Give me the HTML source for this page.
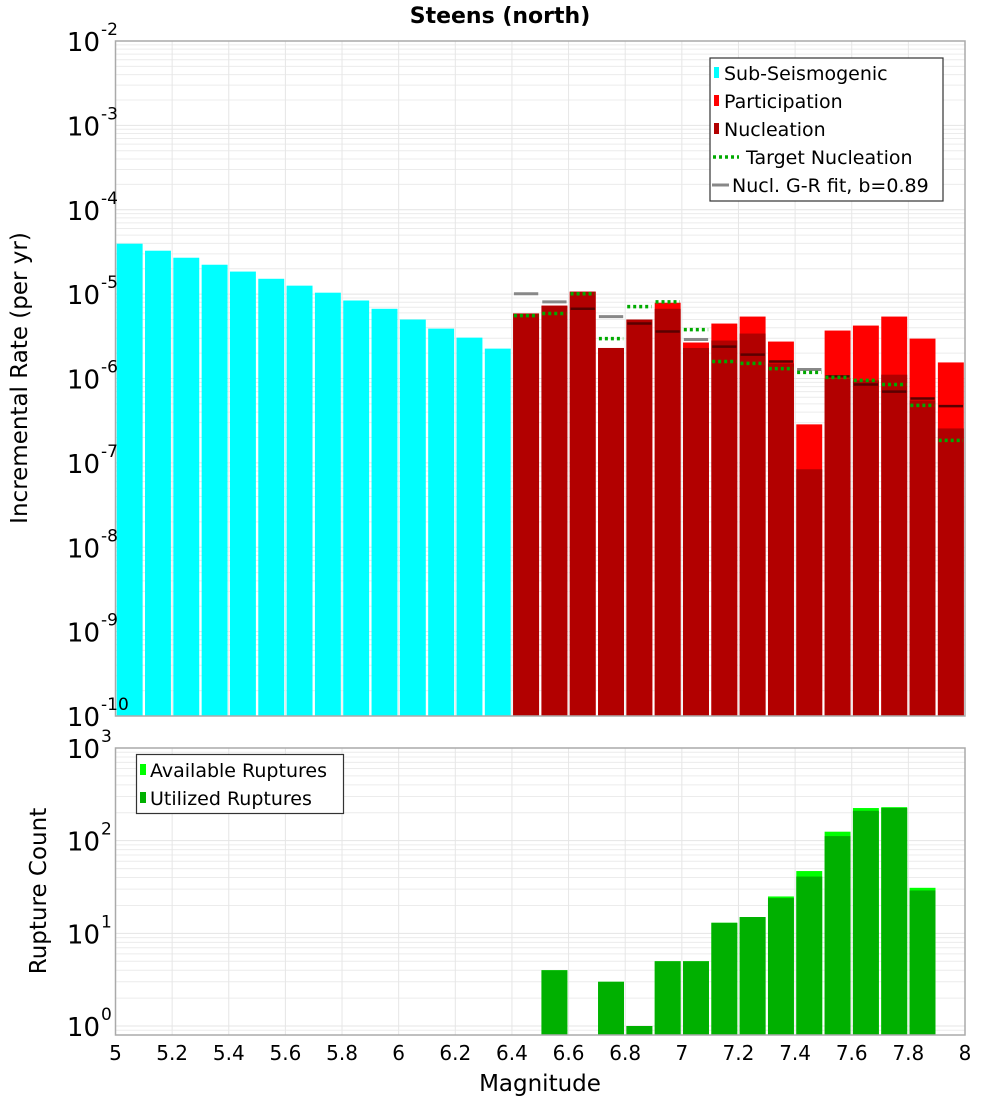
<!DOCTYPE html>
<html><head><meta charset="utf-8"><style>
body{margin:0;background:#fff;}
svg{display:block;font-family:"DejaVu Sans","Liberation Sans",sans-serif;}
</style></head><body>
<svg id="chart" width="1000" height="1100" viewBox="0 0 1000 1100" xmlns="http://www.w3.org/2000/svg">
<text x="500" y="23" text-anchor="middle" font-size="22" font-weight="bold">Steens (north)</text>
<g id="topPanel"></g><g id="botPanel"></g>
</svg>
<script>
// ---- data ----
const subMags = [5.05,5.15,5.25,5.35,5.45,5.55,5.65,5.75,5.85,5.95,6.05,6.15,6.25,6.35];
const subRates = [3.96e-5,3.27e-5,2.7e-5,2.23e-5,1.85e-5,1.52e-5,1.26e-5,1.04e-5,8.4e-6,6.7e-6,5.0e-6,3.9e-6,3.05e-6,2.26e-6];
const supMags = [6.45,6.55,6.65,6.75,6.85,6.95,7.05,7.15,7.25,7.35,7.45,7.55,7.65,7.75,7.85,7.95];
const partRates = [5.9e-6,7.3e-6,1.07e-5,2.3e-6,5.0e-6,7.9e-6,2.67e-6,4.48e-6,5.42e-6,2.74e-6,2.86e-7,3.7e-6,4.24e-6,5.42e-6,2.97e-6,1.55e-6];
const nuclRates = [5.9e-6,7.3e-6,1.07e-5,2.3e-6,5.0e-6,6.7e-6,2.3e-6,2.82e-6,3.41e-6,1.51e-6,8.4e-8,1.0e-6,9.5e-7,1.11e-6,5.5e-7,2.56e-7];
const darkMags = [6.65,6.85,6.95,7.15,7.25,7.35,7.55,7.65,7.75,7.85,7.95];
const darkRates = [6.7e-6,4.48e-6,3.6e-6,2.39e-6,1.92e-6,1.59e-6,1.06e-6,8.5e-7,7.0e-7,5.8e-7,4.7e-7];
const targetRates = [5.57e-6,5.9e-6,1.01e-5,2.97e-6,7.1e-6,8.1e-6,3.8e-6,1.59e-6,1.51e-6,1.31e-6,1.18e-6,1.03e-6,9.5e-7,8.5e-7,4.8e-7,1.85e-7];
const grMags = [6.45,6.55,6.75,7.05,7.45];
const grRates = [1.01e-5,8.1e-6,5.42e-6,2.9e-6,1.28e-6];
const cntMags = [6.55,6.75,6.85,6.95,7.05,7.15,7.25,7.35,7.45,7.55,7.65,7.75,7.85];
const availCounts = [4,3,1,5,5,13,15,25,47,125,225,230,31];
const usedCounts = [4,3,1,5,5,13,15,24,41,112,210,225,29];
const xTicks = [5,5.2,5.4,5.6,5.8,6,6.2,6.4,6.6,6.8,7,7.2,7.4,7.6,7.8,8];
const topExps = [-2,-3,-4,-5,-6,-7,-8,-9,-10];
const botExps = [3,2,1,0];

// ---- axes ----
const X0=115.5,X1=965;
const xs=m=>X0+(m-5)/3*(X1-X0);
const T0=41,T1=716, tMax=-2,tMin=-10;
const yt=v=>T0+(tMax-Math.log10(v))/(tMax-tMin)*(T1-T0);
const B0=748,B1=1035, bMax=3,bMin=-0.097;
const yb=v=>B0+(bMax-Math.log10(v))/(bMax-bMin)*(B1-B0);
const NS='http://www.w3.org/2000/svg';
function mk(parent,tag,attrs,txt){const e=document.createElementNS(NS,tag);for(const k in attrs)e.setAttribute(k,attrs[k]);if(txt!=null)e.textContent=txt;parent.appendChild(e);return e;}
const topG=document.getElementById('topPanel'),botG=document.getElementById('botPanel');

function grid(g,y0,y1,emax,emin,yf){
  for(let e=Math.floor(emin);e<emax;e++){for(let k=1;k<10;k++){const v=k*Math.pow(10,e);const y=yf(v);if(y<y0-0.5||y>y1+0.5)continue;
    const l=mk(g,'line',{x1:X0,x2:X1,y1:y,y2:y,stroke:k==1?'#e4e4e4':'#ececec','stroke-width':1});
    
    }}
  xTicks.forEach(t=>{const x=xs(t);const l=mk(g,'line',{x1:x,x2:x,y1:y0,y2:y1,stroke:'#e6e6e6','stroke-width':1});
    
    });
}
function frame(g,y0,y1){const r=mk(g,'rect',{x:X0,y:y0,width:X1-X0,height:y1-y0,fill:'none',stroke:'#aaa','stroke-width':1.5});
  
  }
function bar(g,m,v,yf,ybase,fill,name){const x0=xs(m-0.05)+1.2,x1=xs(m+0.05)-1.2;const y=yf(v);
  const r=mk(g,'rect',{x:x0,y:y,width:x1-x0,height:Math.max(0,ybase-y),fill:fill});
  
  return r;}
function seg(g,m,v,yf,stroke,w,dash,name){const x0=xs(m-0.05)+2,x1=xs(m+0.05)-2;const y=yf(v);
  const l=mk(g,'line',{x1:x0,x2:x1,y1:y,y2:y,stroke:stroke,'stroke-width':w});if(dash)l.setAttribute('stroke-dasharray',dash);
  
  }
function ylab(g,e,y){const t=mk(g,'text',{x:100,y:y+10,'text-anchor':'end','font-size':26},'10');
  
  
  const s=mk(g,'text',{x:101,y:y-6,'text-anchor':'start','font-size':17},String(e));
  
  }

// top panel
grid(topG,T0,T1,tMax,tMin,yt);
subMags.forEach((m,i)=>bar(topG,m,subRates[i],yt,T1,'#00ffff','sub-seismogenic-bar'));
supMags.forEach((m,i)=>bar(topG,m,partRates[i],yt,T1,'#ff0000','participation-bar'));
supMags.forEach((m,i)=>bar(topG,m,nuclRates[i],yt,T1,'#b20000','nucleation-bar'));
grMags.forEach((m,i)=>seg(topG,m,grRates[i],yt,'#888',3,null,'gr-fit-segment'));
darkMags.forEach((m,i)=>seg(topG,m,darkRates[i],yt,'#5a0000',2.5,null,'nucleation-marker'));
supMags.forEach((m,i)=>seg(topG,m,targetRates[i],yt,'#00aa00',3.5,'3,3','target-nucleation-segment'));
frame(topG,T0,T1);
topExps.forEach(e=>ylab(topG,e,yt(Math.pow(10,e))));
{const t=mk(topG,'text',{x:27,y:378,'text-anchor':'middle','font-size':23,transform:'rotate(-90 27 378)'},'Incremental Rate (per yr)');
 
 }
// top legend
{const lg=mk(topG,'g',{});
 
 
 mk(lg,'rect',{x:710,y:58,width:233,height:143,fill:'#fff',stroke:'#333','stroke-width':1.2});
 const items=[['Sub-Seismogenic','#00ffff','box'],['Participation','#ff0000','box'],['Nucleation','#b20000','box'],['Target Nucleation','#00aa00','dot'],['Nucl. G-R fit, b=0.89','#888','line']];
 items.forEach((it,i)=>{const y=73+i*28;const ge=mk(lg,'g',{});
  
  
  let tx=724;
  if(it[2]=='box'){mk(ge,'rect',{x:714,y:y-6,width:5,height:11,fill:it[1]});}
  else if(it[2]=='dot'){mk(ge,'line',{x1:713,x2:739,y1:y,y2:y,stroke:it[1],'stroke-width':3.5,'stroke-dasharray':'3,3'});tx=746;}
  else{mk(ge,'line',{x1:712,x2:729,y1:y,y2:y,stroke:it[1],'stroke-width':3});tx=732;}
  mk(ge,'text',{x:tx,y:y+7,'font-size':19},it[0]);});}

// bottom panel
grid(botG,B0,B1,bMax,-1,yb);
cntMags.forEach((m,i)=>bar(botG,m,availCounts[i],yb,B1,'#00ff00','available-ruptures-bar'));
cntMags.forEach((m,i)=>bar(botG,m,usedCounts[i],yb,B1,'#00b000','utilized-ruptures-bar'));
frame(botG,B0,B1);
botExps.forEach(e=>ylab(botG,e,yb(Math.pow(10,e))));
{const t=mk(botG,'text',{x:46,y:891,'text-anchor':'middle','font-size':23,transform:'rotate(-90 46 891)'},'Rupture Count');
 
 }
{const lg=mk(botG,'g',{});
 
 
 mk(lg,'rect',{x:136.5,y:754.5,width:207,height:59,fill:'#fff',stroke:'#333','stroke-width':1.2});
 [['Available Ruptures','#00ff00'],['Utilized Ruptures','#00b000']].forEach((it,i)=>{const y=770+i*28;const ge=mk(lg,'g',{});
  
  
  mk(ge,'rect',{x:140,y:y-6,width:6,height:11,fill:it[1]});mk(ge,'text',{x:150,y:y+7,'font-size':19},it[0]);});}
xTicks.forEach(t=>{const e=mk(botG,'text',{x:xs(t),y:1060,'text-anchor':'middle','font-size':20},String(t));
  
  });
{const t=mk(botG,'text',{x:540,y:1091,'text-anchor':'middle','font-size':23},'Magnitude');
 
 }
</script>
</body></html>
